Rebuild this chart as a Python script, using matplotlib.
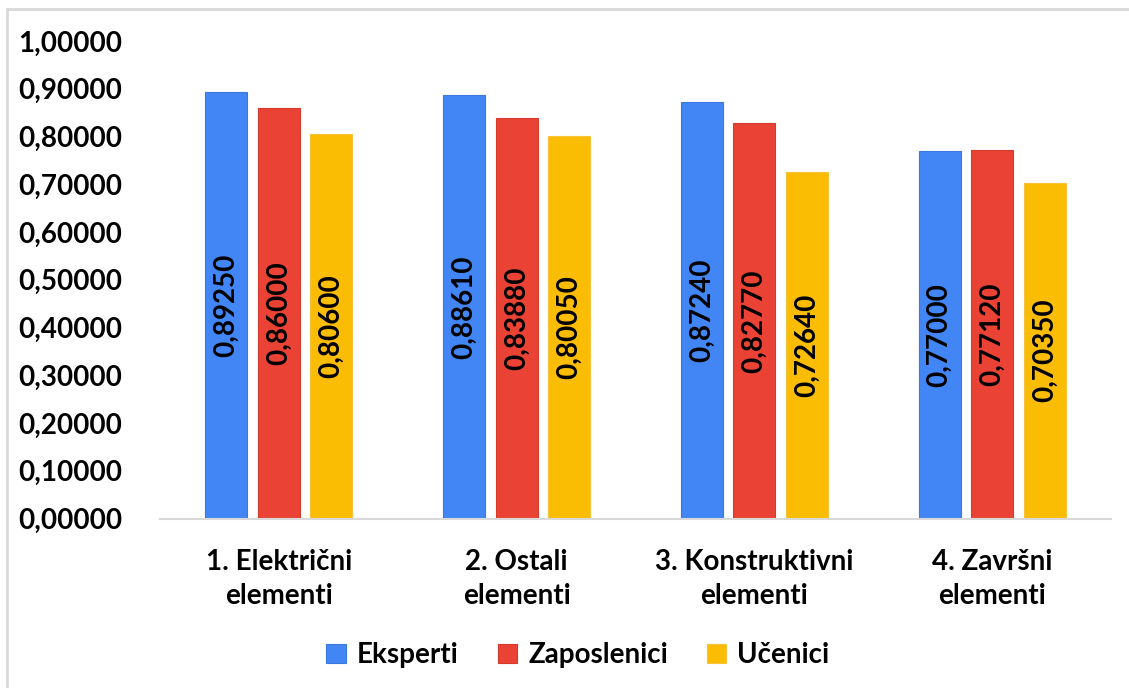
import matplotlib
matplotlib.use("Agg")
import matplotlib.pyplot as plt
from matplotlib.patches import Rectangle
import numpy as np

plt.rcParams['font.family'] = ['Lato', 'DejaVu Sans']
plt.rcParams['font.weight'] = 'bold'

categories = ["1. Električni\nelementi", "2. Ostali\nelementi",
              "3. Konstruktivni\nelementi", "4. Završni\nelementi"]
series_names = ["Eksperti", "Zaposlenici", "Učenici"]
eksperti = [0.89250, 0.88610, 0.87240, 0.77000]
zaposlenici = [0.86000, 0.83880, 0.82770, 0.77120]
ucenici = [0.80600, 0.80050, 0.72640, 0.70350]
yticks = [0.0, 0.1, 0.2, 0.3, 0.4, 0.5, 0.6, 0.7, 0.8, 0.9, 1.0]

colors = ["#4285F4", "#EA4335", "#FBBC04"]
edges = ["#3A78E0", "#D63A2D", "#F5C23A"]
FS = 20

W, H = 1129, 688
fig = plt.figure(figsize=(W / 100, H / 100), dpi=100)
ax = fig.add_axes([160 / W, (H - 518.5) / H, (1111 - 160) / W, (518.5 - 41) / H])

# outer frame of the chart area
fig.patches.append(Rectangle((7 / W, -0.1), 1.2, (H - 9) / H + 0.1,
                             transform=fig.transFigure, fill=False,
                             edgecolor="#d9d9d9", linewidth=2.0))

x = np.arange(len(categories))
width = 0.177
step = 0.221
fmt = lambda v: f"{v:.5f}".replace(".", ",")
for i, (name, vals) in enumerate(zip(series_names, [eksperti, zaposlenici, ucenici])):
    pos = x + (i - 1) * step
    bars = ax.bar(pos, vals, width, color=colors[i], edgecolor=edges[i],
                  linewidth=0.8, label=name, zorder=2)
    for b, v in zip(bars, vals):
        ax.text(b.get_x() + b.get_width() / 2, v / 2, fmt(v), rotation=90,
                ha="center", va="center", fontsize=FS, fontweight="bold",
                color="black", zorder=3)

ax.set_xlim(-0.5, len(categories) - 0.5)
ax.set_ylim(0, 1.0)
ax.set_yticks(yticks)
ax.set_yticklabels([fmt(t) for t in yticks], fontsize=FS, fontweight="bold")
ax.set_xticks(x)
ax.set_xticklabels(categories, fontsize=FS, fontweight="bold", linespacing=1.4)
ax.tick_params(axis="y", length=0, pad=27)
ax.tick_params(axis="x", length=0, pad=22)
for s in ["top", "right", "left"]:
    ax.spines[s].set_visible(False)
ax.spines["bottom"].set_color("#d9d9d9")
ax.spines["bottom"].set_linewidth(1.5)

fig.legend(loc="center", bbox_to_anchor=(578 / W, (H - 655) / H), ncol=3,
           frameon=False, handlelength=0.7, handleheight=0.7,
           handletextpad=0.4, columnspacing=1.4,
           prop={"size": FS, "weight": "bold"})

fig.savefig("out.png", dpi=100, facecolor="white")
